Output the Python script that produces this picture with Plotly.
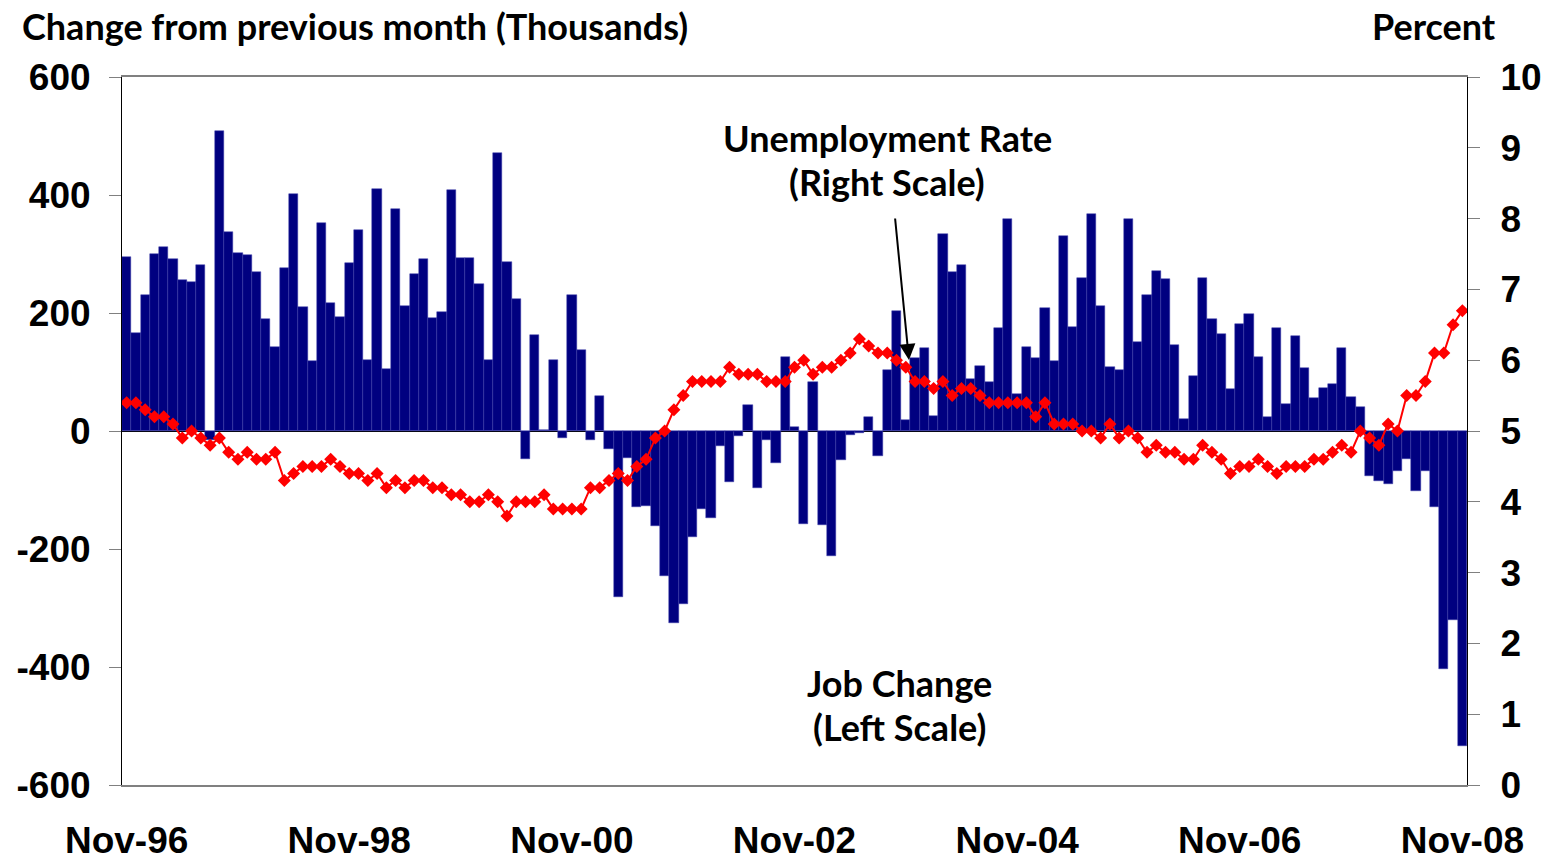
import pandas as pd
import plotly.graph_objects as go

months = list(pd.date_range("1996-11-01", periods=145, freq="MS").strftime("%b-%y"))

job_change = [
    295, 166, 230, 300, 312, 291, 256, 252, 282, -16, 508, 338, 302, 298, 270, 189, 143, 277, 401, 211, 118, 352, 217, 193,
    284, 341, 120, 410, 105, 376, 212, 266, 291, 192, 202, 408, 294, 294, 249, 120, 472, 286, 224, -47, 162, 2, 121, -12,
    231, 137, -16, 60, -31, -282, -45, -129, -127, -161, -246, -326, -294, -179, -133, -148, -25, -86, -9, 44, -97, -16, -55, 125,
    7, -157, 83, -160, -212, -49, -6, -4, 24, -42, 103, 203, 19, 123, 141, 26, 334, 270, 281, 88, 111, 83, 175, 359,
    62, 143, 124, 208, 118, 331, 176, 260, 367, 212, 108, 104, 360, 151, 231, 271, 258, 146, 21, 94, 260, 190, 164, 72,
    182, 198, 125, 24, 175, 45, 161, 106, 56, 73, 80, 140, 58, 40, -77, -84, -89, -68, -48, -101, -68, -128, -404, -321, -534,
]

unemployment = [
    5.4, 5.4, 5.3, 5.2, 5.2, 5.1, 4.9, 5.0, 4.9, 4.8, 4.9, 4.7, 4.6, 4.7, 4.6, 4.6, 4.7, 4.3, 4.4, 4.5, 4.5, 4.5, 4.6, 4.5,
    4.4, 4.4, 4.3, 4.4, 4.2, 4.3, 4.2, 4.3, 4.3, 4.2, 4.2, 4.1, 4.1, 4.0, 4.0, 4.1, 4.0, 3.8, 4.0, 4.0, 4.0, 4.1, 3.9, 3.9,
    3.9, 3.9, 4.2, 4.2, 4.3, 4.4, 4.3, 4.5, 4.6, 4.9, 5.0, 5.3, 5.5, 5.7, 5.7, 5.7, 5.7, 5.9, 5.8, 5.8, 5.8, 5.7, 5.7, 5.7,
    5.9, 6.0, 5.8, 5.9, 5.9, 6.0, 6.1, 6.3, 6.2, 6.1, 6.1, 6.0, 5.9, 5.7, 5.7, 5.6, 5.7, 5.5, 5.6, 5.6, 5.5, 5.4, 5.4, 5.4,
    5.4, 5.4, 5.2, 5.4, 5.1, 5.1, 5.1, 5.0, 5.0, 4.9, 5.1, 4.9, 5.0, 4.9, 4.7, 4.8, 4.7, 4.7, 4.6, 4.6, 4.8, 4.7, 4.6, 4.4,
    4.5, 4.5, 4.6, 4.5, 4.4, 4.5, 4.5, 4.5, 4.6, 4.6, 4.7, 4.8, 4.7, 5.0, 4.9, 4.8, 5.1, 5.0, 5.5, 5.5, 5.7, 6.1, 6.1, 6.5, 6.7,
]

x_ticks = ["Nov-96", "Nov-98", "Nov-00", "Nov-02", "Nov-04", "Nov-06", "Nov-08"]
left_ticks = [-600, -400, -200, 0, 200, 400, 600]
left_labels = ["-600", "-400", "-200", "0", "200", "400", "600"]
right_ticks = list(range(0, 11))

TICK_FONT = dict(family="Liberation Sans", size=37, color="black", weight="bold")
LABEL_FONT = dict(family="Lato", size=36, color="black", weight="bold")

fig = go.Figure()
fig.add_trace(go.Bar(
    x=months, y=job_change, name="Job Change",
    marker=dict(color="#000080", line=dict(color="#3c3ca8", width=0.5)),
    yaxis="y",
))
fig.add_trace(go.Scatter(
    x=months, y=unemployment, name="Unemployment Rate",
    mode="lines+markers",
    line=dict(color="#ff0000", width=2),
    marker=dict(symbol="diamond", size=10, color="#ff0000"),
    yaxis="y2",
))

# the page body adds an 8px offset, so the figure is sized/shifted to compensate
fig.update_layout(
    width=1547, height=850,
    margin=dict(l=114, r=88, t=69, b=73),
    paper_bgcolor="white", plot_bgcolor="white",
    showlegend=False,
    bargap=0,
    xaxis=dict(
        type="category", range=[-0.5, len(months) - 0.5], autorange=False,
        tickmode="array", tickvals=x_ticks, ticktext=x_ticks,
        tickfont=TICK_FONT, ticks="", showgrid=False, automargin=False,
        showline=True, linecolor="#808080", linewidth=2, mirror=True,
        ticklabelstandoff=22,
    ),
    yaxis=dict(
        range=[-600, 600], tickmode="array", tickvals=left_ticks, ticktext=left_labels,
        tickfont=TICK_FONT, ticks="outside", ticklen=12, tickcolor="#808080",
        showgrid=False, showline=True, linecolor="black", linewidth=1, automargin=False,
        zeroline=True, zerolinecolor="black", zerolinewidth=1,
        ticklabelstandoff=11,
    ),
    yaxis2=dict(
        range=[0, 10], tickmode="array", tickvals=right_ticks,
        overlaying="y", side="right", automargin=False,
        tickfont=TICK_FONT, ticks="outside", ticklen=12, tickcolor="#808080",
        showgrid=False, showline=True, linecolor="black", linewidth=1,
        zeroline=False, ticklabelstandoff=13,
    ),
)

annotations = [
    dict(text="Change from previous month (Thousands)", x=-0.0758, y=1.072, xanchor="left", yanchor="middle"),
    dict(text="Percent", x=1.0230, y=1.072, xanchor="right", yanchor="middle"),
    dict(text="Unemployment Rate", x=0.5688, y=0.9138, xanchor="center", yanchor="middle"),
    dict(text="(Right Scale)", x=0.5688, y=0.8517, xanchor="center", yanchor="middle"),
    dict(text="Job Change", x=0.5784, y=0.1441, xanchor="center", yanchor="middle"),
    dict(text="(Left Scale)", x=0.5784, y=0.0819, xanchor="center", yanchor="middle"),
]
for a in annotations:
    fig.add_annotation(xref="paper", yref="paper", showarrow=False, font=LABEL_FONT, **a)

fig.add_annotation(
    xref="paper", yref="paper", x=0.5851, y=0.6003, ax=-14, ay=-143,
    text="", showarrow=True, arrowhead=2, arrowsize=1.6, arrowwidth=2, arrowcolor="black",
)

fig.write_html("out.html")
